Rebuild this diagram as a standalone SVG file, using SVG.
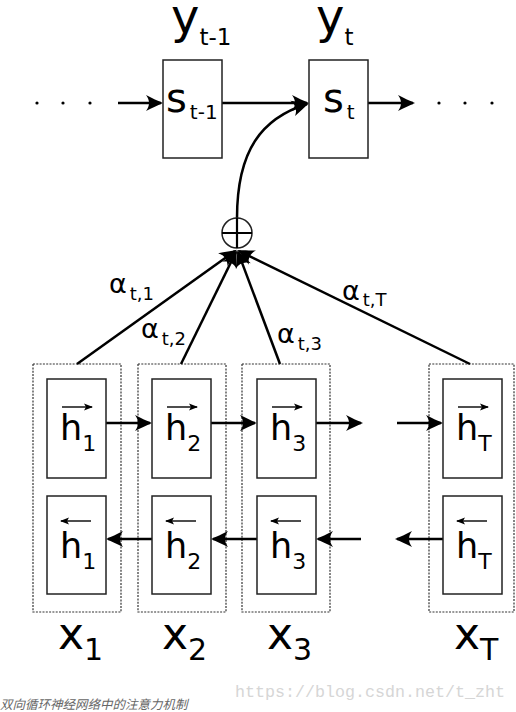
<svg xmlns="http://www.w3.org/2000/svg" width="516" height="712" viewBox="0 0 516 712">
<style>
.t{font-family:"DejaVu Sans","Liberation Sans",sans-serif;fill:#000}
.box{fill:#fff;stroke:#222;stroke-width:1.5}
.grp{fill:none;stroke:#333;stroke-width:1.2;stroke-dasharray:2,1.3}
.c{fill:none;stroke:#000;stroke-width:2.5;marker-end:url(#ah)}
.sa{fill:none;stroke:#000;stroke-width:1.4}
.sr{marker-end:url(#sh)}
</style>
<defs>
<marker id="ah" markerUnits="userSpaceOnUse" markerWidth="20" markerHeight="20" refX="0" refY="0" viewBox="-16 -9 20 18" orient="auto" overflow="visible">
<path d="M2,0 C-3,-2 -9,-5 -15,-8 C-11,-3 -11,3 -15,8 C-9,5 -3,2 2,0 Z" fill="#000"/>
</marker>
<marker id="sh" markerUnits="userSpaceOnUse" markerWidth="12" markerHeight="10" refX="0" refY="0" viewBox="-10 -5 12 10" orient="auto" overflow="visible">
<path d="M1,0 L-8,-3.5 L-6,0 L-8,3.5 Z" fill="#000"/>
</marker>
</defs>

<g id="dots-left" fill="#000"><circle cx="37" cy="103" r="1.6"/><circle cx="63" cy="103" r="1.6"/><circle cx="90" cy="103" r="1.6"/></g>
<g id="dots-right" fill="#000"><circle cx="439" cy="103" r="1.6"/><circle cx="465" cy="103" r="1.6"/><circle cx="492" cy="103" r="1.6"/></g>

<g id="group-x1"><rect class="grp" x="33" y="364" width="88" height="248"/></g>
<g id="group-x2"><rect class="grp" x="138" y="364" width="88" height="248"/></g>
<g id="group-x3"><rect class="grp" x="242" y="364" width="88" height="248"/></g>
<g id="group-xT"><rect class="grp" x="429" y="364" width="85" height="248"/></g>

<g id="connectors">
<path class="c" d="M118,103 H161"/>
<path class="c" d="M222,103 H307"/>
<path class="c" d="M368,103 H413"/>
<path class="c" d="M237,218 C237,150 262,118 307,104"/>
<path class="c" d="M77,364 L235,251"/>
<path class="c" d="M181,364 L236,252"/>
<path class="c" d="M280,364 L238,252"/>
<path class="c" d="M470,364 L239,251"/>
<path class="c" d="M106,423 H150"/>
<path class="c" d="M211,423 H255"/>
<path class="c" d="M316,423 H361"/>
<path class="c" d="M397,423 H441"/>
<path class="c" d="M152,539 H108"/>
<path class="c" d="M257,539 H213"/>
<path class="c" d="M361,539 H318"/>
<path class="c" d="M443,539 H397"/>
</g>

<g id="node-st-1">
<rect class="box" x="163" y="60" width="59" height="98"/>
<text class="t" x="166" y="112" font-size="40">s<tspan dx="3" dy="7" font-size="20">t-1</tspan></text>
</g>
<g id="node-st">
<rect class="box" x="309" y="60" width="59" height="98"/>
<text class="t" x="323" y="112" font-size="40">s<tspan dx="3" dy="7" font-size="20">t</tspan></text>
</g>
<g id="label-yt-1"><text class="t" x="171" y="33" font-size="48">y<tspan dy="12" font-size="23">t-1</tspan></text></g>
<g id="label-yt"><text class="t" x="316" y="33" font-size="48">y<tspan dy="12" font-size="23">t</tspan></text></g>

<g id="sum">
<circle cx="237" cy="233" r="15" fill="#fff" stroke="#222" stroke-width="1.5"/>
<path d="M237,218 V248 M222,233 H252" stroke="#000" stroke-width="2.2"/>
</g>

<g id="label-a1"><text class="t" x="109" y="293" font-size="27">α<tspan dx="3" dy="7" font-size="18">t,1</tspan></text></g>
<g id="label-a2"><text class="t" x="141" y="338" font-size="27">α<tspan dx="3" dy="7" font-size="18">t,2</tspan></text></g>
<g id="label-a3"><text class="t" x="277" y="343" font-size="27">α<tspan dx="3" dy="7" font-size="18">t,3</tspan></text></g>
<g id="label-aT"><text class="t" x="342" y="300" font-size="27">α<tspan dx="3" dy="6" font-size="18">t,T</tspan></text></g>

<g id="node-fh1">
<rect class="box" x="47" y="379" width="59" height="99"/>
<path class="sa sr" d="M62,407 H92"/>
<text class="t" x="60" y="440" font-size="35">h<tspan dy="11" font-size="22">1</tspan></text>
</g>
<g id="node-fh2">
<rect class="box" x="152" y="379" width="59" height="99"/>
<path class="sa sr" d="M167,407 H197"/>
<text class="t" x="165" y="440" font-size="35">h<tspan dy="11" font-size="22">2</tspan></text>
</g>
<g id="node-fh3">
<rect class="box" x="257" y="379" width="59" height="99"/>
<path class="sa sr" d="M272,407 H302"/>
<text class="t" x="270" y="440" font-size="35">h<tspan dy="11" font-size="22">3</tspan></text>
</g>
<g id="node-fhT">
<rect class="box" x="443" y="379" width="59" height="99"/>
<path class="sa sr" d="M458,407 H488"/>
<text class="t" x="456" y="440" font-size="35">h<tspan dy="11" font-size="22">T</tspan></text>
</g>

<g id="node-bh1">
<rect class="box" x="47" y="496" width="59" height="98"/>
<path class="sa sr" d="M91,521 H61"/>
<text class="t" x="60" y="558" font-size="35">h<tspan dy="11" font-size="22">1</tspan></text>
</g>
<g id="node-bh2">
<rect class="box" x="152" y="496" width="59" height="98"/>
<path class="sa sr" d="M196,521 H166"/>
<text class="t" x="165" y="558" font-size="35">h<tspan dy="11" font-size="22">2</tspan></text>
</g>
<g id="node-bh3">
<rect class="box" x="257" y="496" width="59" height="98"/>
<path class="sa sr" d="M301,521 H271"/>
<text class="t" x="270" y="558" font-size="35">h<tspan dy="11" font-size="22">3</tspan></text>
</g>
<g id="node-bhT">
<rect class="box" x="443" y="496" width="59" height="98"/>
<path class="sa sr" d="M487,521 H457"/>
<text class="t" x="456" y="558" font-size="35">h<tspan dy="11" font-size="22">T</tspan></text>
</g>

<g id="label-x1"><text class="t" x="58" y="649" font-size="44">x<tspan dy="11" font-size="30">1</tspan></text></g>
<g id="label-x2"><text class="t" x="162" y="649" font-size="44">x<tspan dy="11" font-size="30">2</tspan></text></g>
<g id="label-x3"><text class="t" x="267" y="649" font-size="44">x<tspan dy="11" font-size="30">3</tspan></text></g>
<g id="label-xT"><text class="t" x="454" y="649" font-size="44">x<tspan dy="11" font-size="30">T</tspan></text></g>

<g id="watermark"><text x="235" y="697" font-family="Liberation Mono, monospace" font-size="17" fill="#d6d6d6" textLength="270" lengthAdjust="spacingAndGlyphs">https://blog.csdn.net/t_zht</text></g>
<g id="caption"><text x="0" y="709" font-family="Noto Sans CJK SC, sans-serif" font-size="12.5" font-style="italic" fill="#666">双向循环神经网络中的注意力机制</text></g>
</svg>
